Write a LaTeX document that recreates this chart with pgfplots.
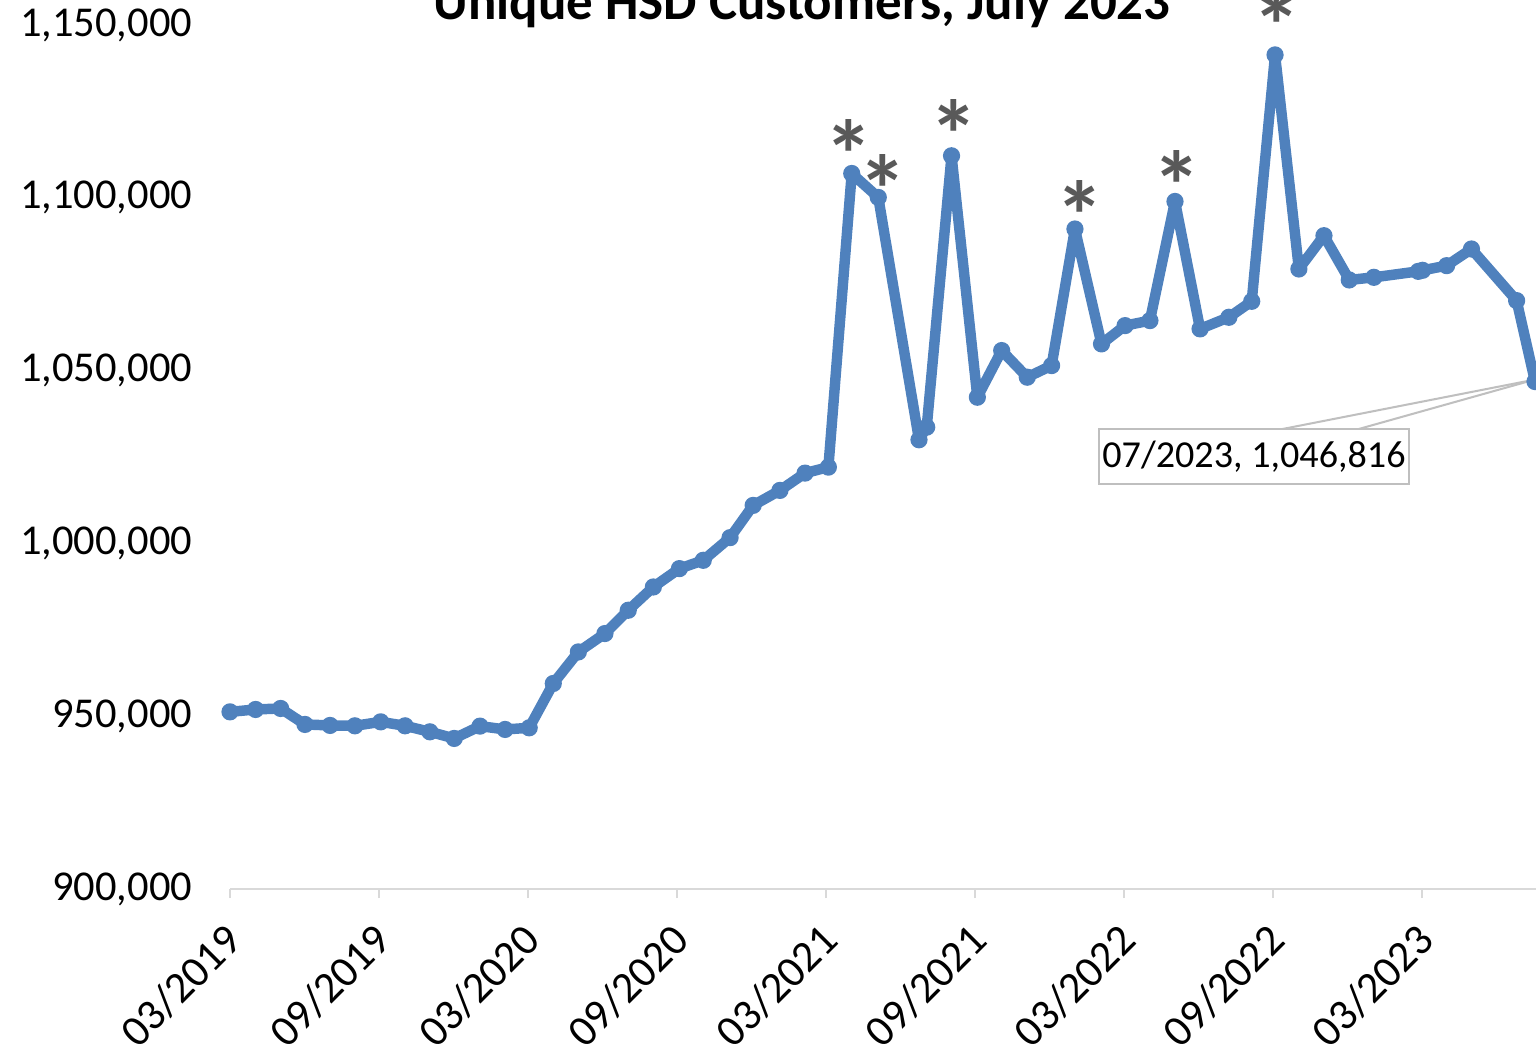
\documentclass[border=0pt]{standalone}
\usepackage{pgfplots}
\pgfplotsset{compat=1.18}
\usepackage{pgfplotstable}
\usepackage{fontspec}
\setmainfont{Carlito}

\definecolor{serblue}{HTML}{4F81BD}
\definecolor{axgray}{HTML}{D9D9D9}
\definecolor{stargray}{HTML}{595959}
\definecolor{callgray}{HTML}{BFBFBF}

% month index from 03/2019, customers
\pgfplotstableread{
x y
0 951240
1.03 951930
2.04 952220
3.02 947600
4.03 947310
5.03 947200
6.07 948350
7.05 947200
8.05 945460
9.03 943550
10.07 947110
11.08 946150
12.05 946620
13.02 959450
14.03 968580
15.1 973900
16.04 980640
17.05 987370
18.1 992690
19.06 995090
20.14 1001650
21.07 1010980
22.15 1015320
23.16 1020320
24.1 1022050
25.04 1107020
26.11 1100090
27.75 1029970
28.06 1033620
29.06 1112140
30.1 1042280
31.08 1055780
32.11 1048070
33.09 1051440
34.03 1090950
35.1 1057710
36.05 1063000
37.05 1064450
38.06 1098930
39.07 1062050
40.23 1065410
41.15 1070030
42.09 1141330
43.05 1079390
44.06 1089020
45.08 1076210
46.07 1076970
47.86 1078700
48.03 1079000
49.0 1080350
50.0 1085170
51.82 1070230
52.56 1046816
}\customers

% flagged months, with label offsets in pt
\pgfplotstableread{
x y dx dy
25.04 1107020 -0.9 5.6
26.11 1100090 1.5 2.4
29.06 1112140 0.6 6.4
34.03 1090950 1.5 3.9
38.06 1098930 0.6 4.8
42.09 1141330 0.6 8.6
}\flagged

\begin{document}
\begin{tikzpicture}
\begin{axis}[
    scale only axis,
    width=13.604cm, height=9.0cm,
    xmin=0, xmax=52.6,
    ymin=900000, ymax=1150000,
    axis x line*=bottom, axis y line*=left,
    x axis line style={draw=axgray, line width=0.6pt},
    y axis line style={draw=none},
    xtick={0,6,...,48},
    xticklabels={03/2019,09/2019,03/2020,09/2020,03/2021,09/2021,03/2022,09/2022,03/2023},
    ytick={900000,950000,...,1150000},
    scaled y ticks=false,
    yticklabel={\pgfmathprintnumber[fixed, precision=0, 1000 sep={,}, assume math mode=true]{\tick}},
    tick align=outside,
    major tick length=2.7pt,
    xtick style={draw=axgray, line width=0.6pt},
    ytick style={draw=none},
    tick label style={font=\fontsize{12.6}{14}\selectfont, text=black},
    xticklabel style={rotate=45, anchor=north east, inner sep=0pt, xshift=-3pt,
        font=\fontsize{13}{15}\selectfont},
    xticklabel shift=4.5pt,
    yticklabel style={xshift=-5pt},
    clip=true,
]
\addplot[serblue, line width=3.1pt, line join=round, line cap=round,
    mark=*, mark size=2.3pt,
    mark options={fill=serblue, draw=serblue, line width=0.5pt}]
    table[x=x, y=y] {\customers};

\addplot[draw=none, mark=none,
    point meta=explicit symbolic,
    nodes near coords={*},
    visualization depends on={\thisrow{dx} \as \dx},
    visualization depends on={\thisrow{dy} \as \dy},
    every node near coord/.append style={anchor=center, xshift=\dx pt, yshift=\dy pt,
        text=stargray, font=\bfseries\fontsize{29}{32}\selectfont, inner sep=0pt}]
    table[x=x, y=y, meta=dx] {\flagged};

\draw[callgray, line width=0.6pt] (axis cs:42.29,1032940) -- (axis cs:52.56,1047400);
\draw[callgray, line width=0.6pt] (axis cs:45.39,1032940) -- (axis cs:52.56,1047400);
\node[draw=callgray, fill=white, line width=0.6pt, minimum width=3.23cm, minimum height=0.573cm,
    inner sep=0pt, font=\fontsize{11.3}{14}\selectfont] at (axis cs:41.24,1024990) {07/2023, 1,046,816};

\coordinate (ll) at (rel axis cs:0,0);
\coordinate (ur) at (rel axis cs:1,1);
\coordinate (tt) at (rel axis cs:0.438,1);
\end{axis}
\node[anchor=base, font=\bfseries\fontsize{15.7}{18}\selectfont, yshift=1.5pt] at (tt)
    {Unique HSD Customers, July 2023};
\pgfresetboundingbox
\useasboundingbox ([xshift=-2.396cm, yshift=-1.708cm]ll) rectangle ([yshift=0.26cm]ur);
\end{tikzpicture}
\end{document}
